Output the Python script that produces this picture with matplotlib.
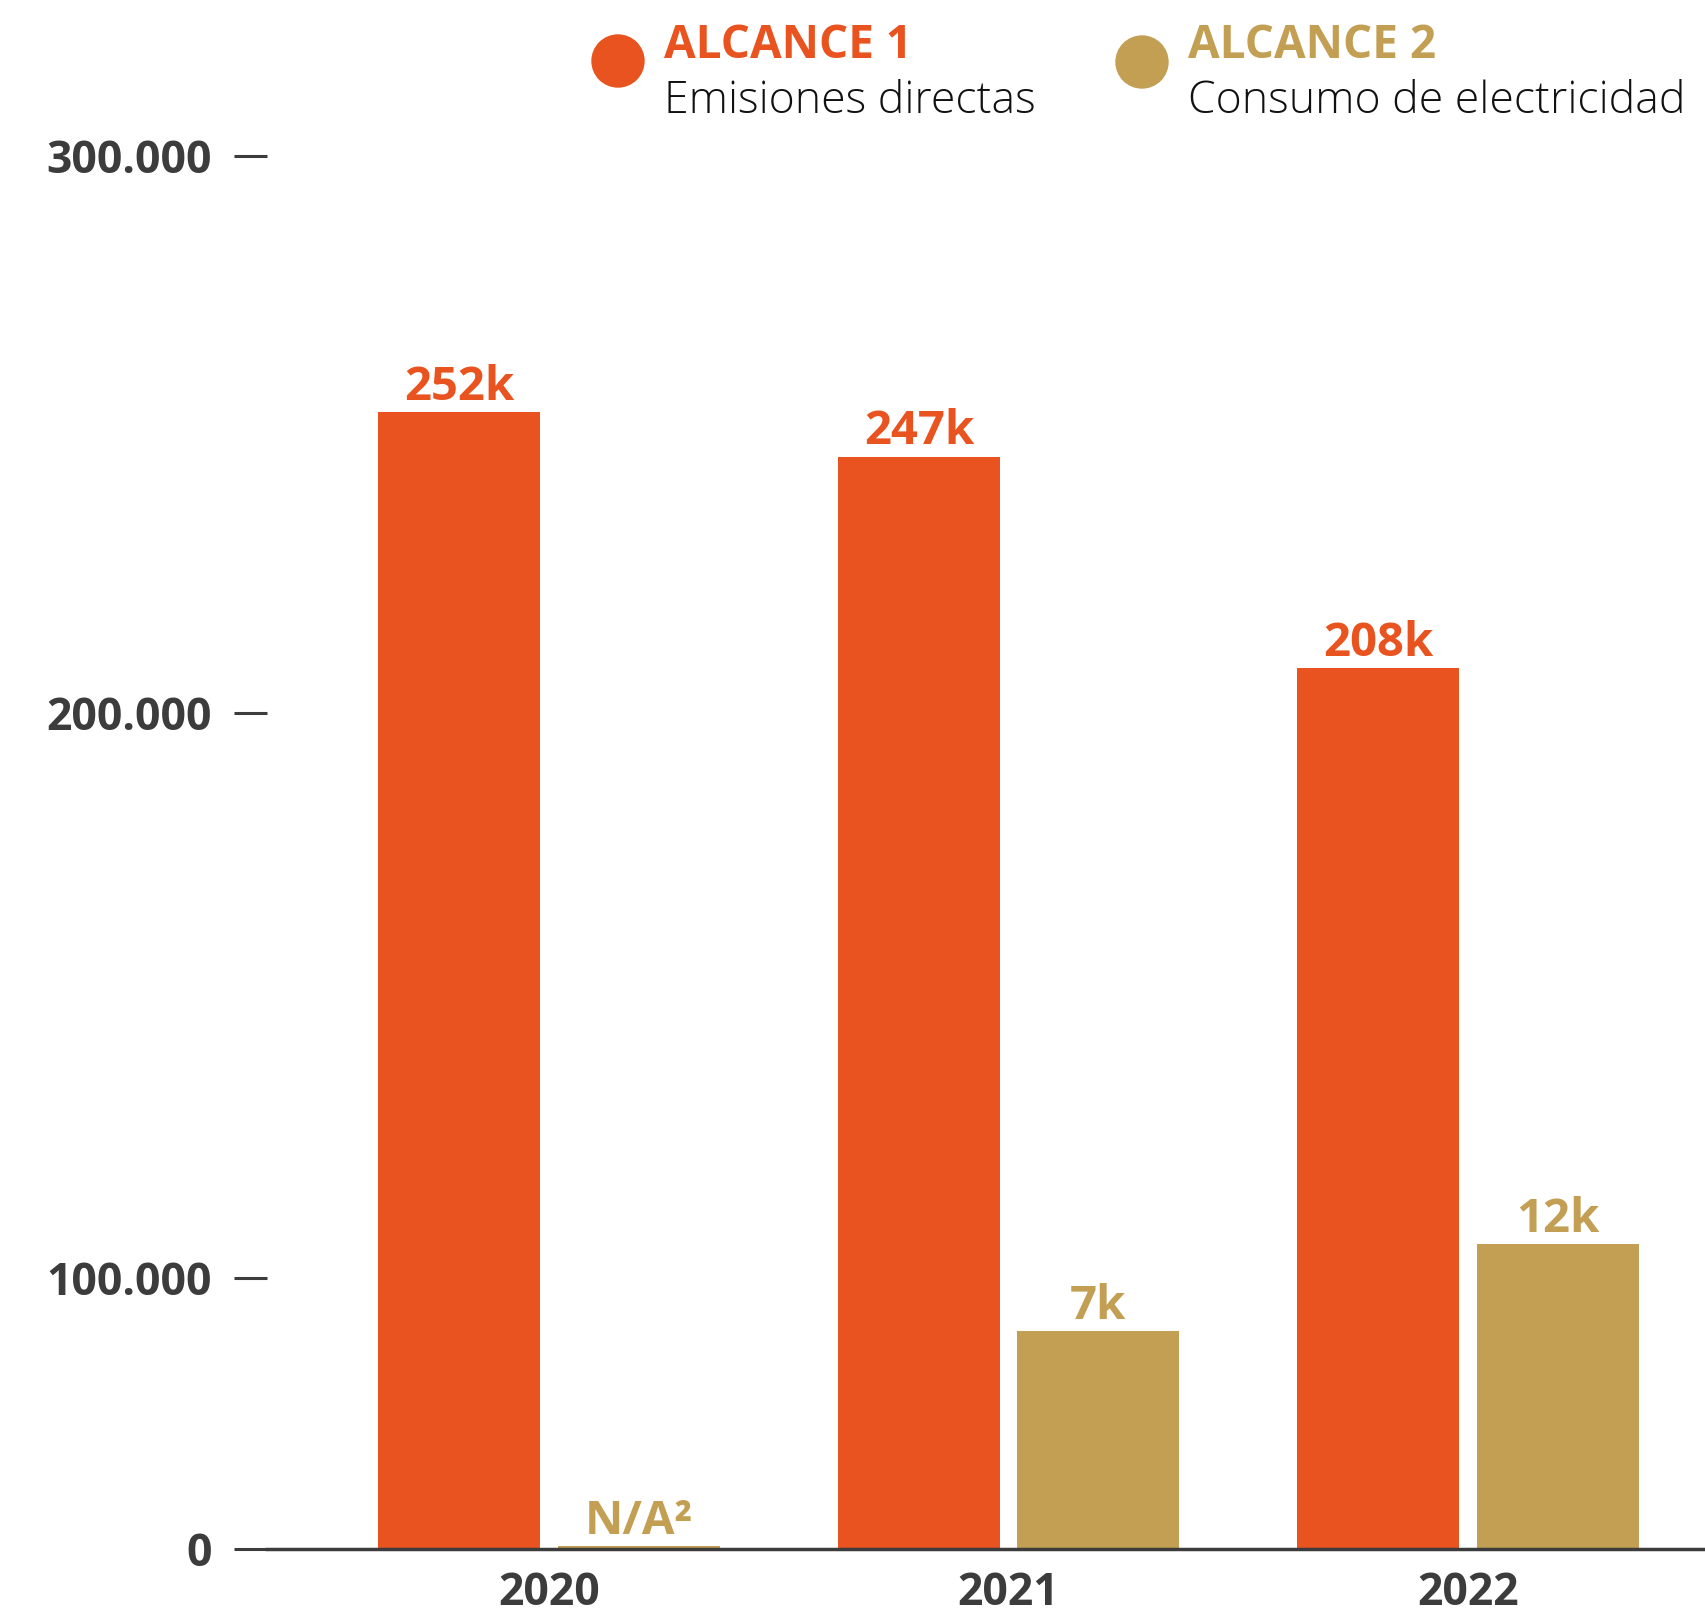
import numpy as np
import matplotlib
matplotlib.use("Agg")
import matplotlib.pyplot as plt
from matplotlib.patches import Ellipse

plt.rcParams['font.family'] = ['Open Sans', 'DejaVu Sans']

years = ["2020", "2021", "2022"]
# bar heights as drawn in the picture (axis is not to scale)
alcance1 = [254000, 246000, 208000]
alcance2 = [1100, 80400, 106000]
labels1 = ["252k", "247k", "208k"]
labels2 = ["N/A²", "7k", "12k"]
yticks = [0, 100000, 200000, 300000]
yticklabels = ["0", "100.000", "200.000", "300.000"]

orange = "#E8531F"
tan = "#C29F52"
grey = "#3C3C3C"

# piecewise axis: the 0-100k band is squeezed in the original
kv = [-100000, 0, 100000, 200000, 300000, 400000]
kp = [-271, 0, 271, 836, 1393, 1950]
fwd = lambda v: np.interp(v, kv, kp)
inv = lambda p: np.interp(p, kp, kv)

fig = plt.figure(figsize=(17.06, 16.23), dpi=100)
ax = fig.add_axes([267/1706, 74/1623, 1439/1706, 1393/1623])
ax.set_yscale('function', functions=(fwd, inv))

x = np.arange(len(years))
w = 0.3526
off = 0.195
ax.bar(x - off, alcance1, w, color=orange)
ax.bar(x + off, alcance2, w, color=tan)

for xi, v, t in zip(x, alcance1, labels1):
    ax.annotate(t, (xi - off, v), xytext=(0, 9), textcoords='offset points',
                ha='center', va='baseline', color=orange, fontsize=34, fontweight='bold')
for xi, v, t in zip(x, alcance2, labels2):
    ax.annotate(t, (xi + off, v), xytext=(0, 9), textcoords='offset points',
                ha='center', va='baseline', color=tan, fontsize=34, fontweight='bold')

ax.set_xlim(-0.6137, 2.518)
ax.set_ylim(0, 300000)
ax.set_yticks(yticks)
ax.set_yticklabels(yticklabels)
ax.set_xticks(x)
ax.set_xticklabels(years)
ax.tick_params(axis='y', length=23.8, width=2.2, color=grey, pad=16,
               labelsize=32, labelcolor=grey)
ax.tick_params(axis='x', length=0, pad=16, labelsize=32, labelcolor=grey)
for lab in ax.get_yticklabels() + ax.get_xticklabels():
    lab.set_fontweight('bold')

for s in ['left', 'right', 'top']:
    ax.spines[s].set_visible(False)
ax.spines['bottom'].set_color(grey)
ax.spines['bottom'].set_linewidth(2.5)

# legend at the top
W, H = 1706, 1623
for cx, cy, col, title, sub in [(618, 61, orange, "ALCANCE 1", "Emisiones directas"),
                                (1142, 62, tan, "ALCANCE 2", "Consumo de electricidad")]:
    fig.patches.append(Ellipse((cx / W, 1 - cy / H), 52 / W, 52 / H, color=col,
                               transform=fig.transFigure))
    fig.text((cx + 46) / W, 1 - 58 / H, title, color=col, fontsize=33,
             fontweight='bold', va='baseline', ha='left')
    fig.text((cx + 46) / W, 1 - 113 / H, sub, color='#111111', fontsize=32,
             fontweight='light', va='baseline', ha='left')

fig.savefig("out.png", dpi=100)
